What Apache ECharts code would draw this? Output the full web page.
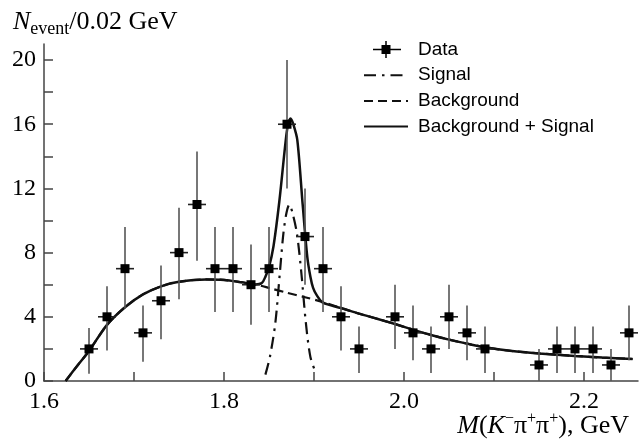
<!DOCTYPE html>
<html>
<head>
<meta charset="utf-8">
<script src="https://cdn.jsdelivr.net/npm/echarts@6/dist/echarts.min.js"></script>
<style>html,body{margin:0;padding:0;background:#fff}#c{width:640px;height:444px}</style>
</head>
<body>
<div id="c"></div>
<script>
// ---- data ----
const binWidth = 0.02;
const dataX = [1.65,1.67,1.69,1.71,1.73,1.75,1.77,1.79,1.81,1.83,1.85,1.87,1.89,1.91,1.93,1.95,1.99,2.01,2.03,2.05,2.07,2.09,2.15,2.17,2.19,2.21,2.23,2.25];
const dataY = [2,4,7,3,5,8,11,7,7,6,7,16,9,7,4,2,4,3,2,4,3,2,1,2,2,2,1,3];
const errLow  = [0.45,1.9,4.5,1.2,2.6,5.1,7.5,4.3,4.3,3.5,4.3,12,6,4.3,1.9,0.5,2,1.3,0.5,2,1.3,0.5,0,0.5,0.5,0.5,0,1.3];
const errHigh = [3.3,5.9,9.6,4.7,7.2,10.8,14.3,9.6,9.6,8.5,9.6,20,12,9.6,5.9,3.4,6,4.7,3.4,6,4.7,3.4,2,3.4,3.4,3.4,2,4.7];

const sigX = [1.846,1.851,1.857,1.862,1.866,1.8695,1.8726,1.876,1.881,1.886,1.891,1.896,1.902];
const sigY = [0.4,1.5,3.6,6.7,9.2,10.5,11.0,10.5,9.2,6.7,3.6,1.5,0.5];

const bgX = [1.624,1.637,1.65,1.67,1.69,1.71,1.73,1.75,1.78,1.80,1.82,1.84,1.85,1.87,1.89,1.91,1.93,1.95,1.97,1.99,2.01,2.03,2.05,2.07,2.09,2.12,2.15,2.19,2.22,2.254];
const bgY = [0,0.95,1.87,3.5,4.6,5.4,5.9,6.18,6.33,6.3,6.15,5.95,5.8,5.5,5.22,4.92,4.55,4.2,3.88,3.55,3.2,2.87,2.58,2.33,2.1,1.87,1.72,1.56,1.46,1.37];

const totX = [1.624,1.637,1.65,1.67,1.69,1.71,1.73,1.75,1.78,1.80,1.82,1.835,1.842,1.846,1.85,1.855,1.8615,1.8686,1.8715,1.874,1.877,1.8815,1.8874,1.8926,1.896,1.899,1.903,1.91,1.93,1.95,1.97,1.99,2.01,2.03,2.05,2.07,2.09,2.12,2.15,2.19,2.22,2.254];
const totY = [0,0.95,1.87,3.5,4.6,5.4,5.9,6.18,6.33,6.3,6.15,6.02,6.1,6.5,7.1,8.4,11.2,15.0,16.1,16.36,16.0,15.0,11.0,7.7,6.5,5.8,5.35,4.88,4.55,4.2,3.88,3.55,3.2,2.87,2.58,2.33,2.1,1.87,1.72,1.56,1.46,1.37];

const xTicks = [1.6,1.7,1.8,1.9,2.0,2.1,2.2];
const xLabels = [1.6,1.8,2.0,2.2];
const yTicks = [0,2,4,6,8,10,12,14,16,18,20];
const yLabels = [0,4,8,12,16,20];

const zip = (a, b) => a.map((v, i) => [v, b[i]]);
const dataRows = dataX.map((x, i) => [x, dataY[i], errLow[i], errHigh[i]]);

const serif = 'Liberation Serif, Times New Roman, serif';
const sans = 'Liberation Sans, Arial, sans-serif';
const axisColor = '#444';

const chart = echarts.init(document.getElementById('c'), null, {renderer: 'canvas'});
chart.setOption({
  animation: false,
  backgroundColor: '#fff',
  grid: {left: 44, right: 2, top: 44, bottom: 63, containLabel: false},
  title: [{
    left: 8, top: 2,
    text: '{n|N}{s|event}{r|/0.02 GeV}',
    textStyle: {
      fontWeight: 'normal',
      rich: {
        n: {fontFamily: serif, fontSize: 26, fontStyle: 'italic', fontWeight: 'normal', color: '#000', lineHeight: 31},
        s: {fontFamily: serif, fontSize: 18, fontWeight: 'normal', color: '#000', verticalAlign: 'bottom', lineHeight: 31},
        r: {fontFamily: serif, fontSize: 26, fontWeight: 'normal', color: '#000', lineHeight: 31}
      }
    }
  }, {
    right: 6, bottom: 0,
    text: '{i|M}{r|(}{i|K}{p|−}{r|π}{p|+}{r|π}{p|+}{r|), GeV}',
    textStyle: {
      fontWeight: 'normal',
      rich: {
        i: {fontFamily: serif, fontSize: 26, fontStyle: 'italic', fontWeight: 'normal', color: '#000', lineHeight: 31},
        r: {fontFamily: serif, fontSize: 26, fontWeight: 'normal', color: '#000', lineHeight: 31},
        p: {fontFamily: serif, fontSize: 16, fontWeight: 'normal', color: '#000', verticalAlign: 'top', lineHeight: 31}
      }
    }
  }],
  legend: {
    orient: 'vertical',
    left: 358, top: 35,
    itemWidth: 44, itemHeight: 18, itemGap: 6.7,
    textStyle: {fontFamily: sans, fontSize: 19, color: '#000', padding: [0, 0, 0, 5]},
    data: [
      {name: 'Data', icon: 'path://M0,0M44,18M9,8.25H37V9.75H9Z M21.25,0.5H22.75V17.5H21.25Z M17.5,4.5H26.5V13.5H17.5Z'},
      {name: 'Signal', itemStyle: {opacity: 0}},
      {name: 'Background', itemStyle: {opacity: 0}},
      {name: 'Background + Signal', itemStyle: {opacity: 0}}
    ]
  },
  xAxis: {
    type: 'value', min: 1.6, max: 2.26,
    axisLine: {show: true, lineStyle: {color: axisColor, width: 1.5}},
    axisTick: {show: true, inside: true, length: 9, customValues: xTicks, lineStyle: {color: axisColor, width: 1.5}},
    axisLabel: {customValues: xLabels, fontFamily: serif, fontSize: 24, color: '#000', margin: 9,
      formatter: v => v.toFixed(1)},
    splitLine: {show: false}
  },
  yAxis: {
    type: 'value', min: 0, max: 21,
    axisLine: {show: true, lineStyle: {color: axisColor, width: 1.5}},
    axisTick: {show: true, inside: true, length: 9, customValues: yTicks, lineStyle: {color: axisColor, width: 1.5}},
    axisLabel: {customValues: yLabels, fontFamily: serif, fontSize: 24, color: '#000', margin: 8},
    splitLine: {show: false}
  },
  series: [
    {
      name: 'Background', type: 'line', data: zip(bgX, bgY), symbol: 'none', smooth: 0.3,
      lineStyle: {color: '#111', width: 2.2, type: [9, 5]}, z: 2
    },
    {
      name: 'Signal', type: 'line', data: zip(sigX, sigY), symbol: 'none', smooth: 0.3,
      lineStyle: {color: '#111', width: 2.2, type: [12, 6, 2.5, 6]}, z: 2
    },
    {
      name: 'Background + Signal', type: 'line', data: zip(totX, totY), symbol: 'none', smooth: 0.3,
      lineStyle: {color: '#111', width: 2.5}, z: 3
    },
    {
      name: 'Data', type: 'custom', data: dataRows, itemStyle: {color: '#000'}, z: 4,
      encode: {x: 0, y: 1},
      renderItem: function (params, api) {
        const x = api.value(0), y = api.value(1), lo = api.value(2), hi = api.value(3);
        const pLo = api.coord([x, lo]), pHi = api.coord([x, hi]);
        const pL = api.coord([x - binWidth / 2, y]), pR = api.coord([x + binWidth / 2, y]);
        const c = api.coord([x, y]);
        const s = 9;
        return {
          type: 'group',
          children: [
            {type: 'line', shape: {x1: pLo[0], y1: pLo[1], x2: pHi[0], y2: pHi[1]}, style: {stroke: '#555', lineWidth: 1.6}},
            {type: 'line', shape: {x1: pL[0], y1: pL[1], x2: pR[0], y2: pR[1]}, style: {stroke: '#222', lineWidth: 1.6}},
            {type: 'rect', shape: {x: c[0] - s / 2, y: c[1] - s / 2, width: s, height: s}, style: {fill: '#000'}}
          ]
        };
      }
    }
  ]
});
</script>
</body>
</html>
